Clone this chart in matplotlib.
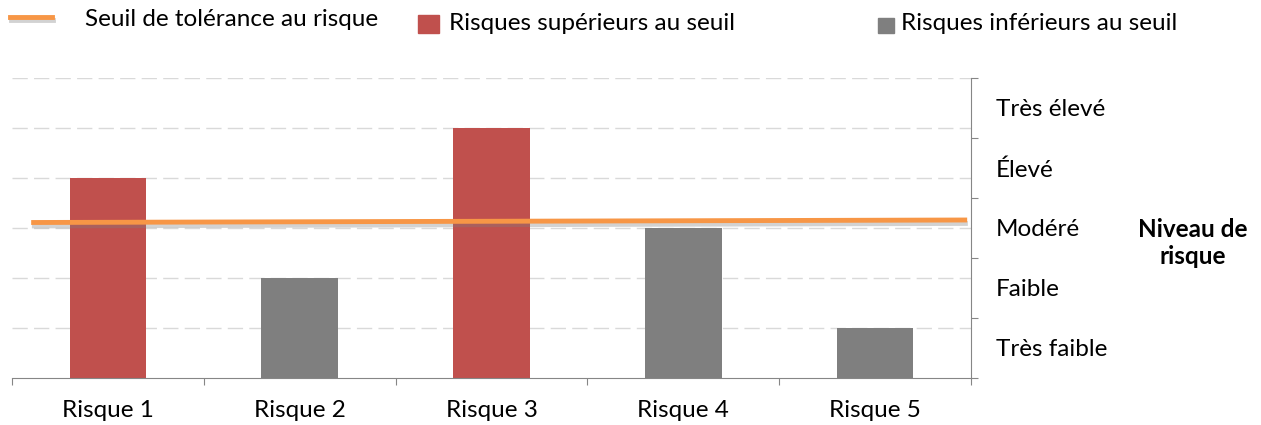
import matplotlib
matplotlib.use("Agg")
import matplotlib.pyplot as plt
import matplotlib.patheffects as pe
from matplotlib.lines import Line2D
from matplotlib.patches import Rectangle

plt.rcParams['font.family'] = ['Lato', 'DejaVu Sans']

categories = ["Risque 1", "Risque 2", "Risque 3", "Risque 4", "Risque 5"]
values = [4, 2, 5, 3, 1]
above_threshold = [True, False, True, False, False]
threshold_x = [-0.4, 4.48]
threshold_y = [3.11, 3.16]
level_labels = ["Très faible", "Faible", "Modéré", "Élevé", "Très élevé"]

RED = "#C0504D"
GREY = "#7F7F7F"
ORANGE = "#F79646"
AXIS = "#868686"
FS = 17.5

fig = plt.figure(figsize=(12.61, 4.25), dpi=100)
ax = fig.add_axes([12/1261, 1-378/425, (971-12)/1261, 300/425])

x = list(range(len(categories)))
colors = [RED if a else GREY for a in above_threshold]
ax.bar(x, values, width=0.40, color=colors, zorder=2)

ax.set_xlim(-0.5, len(categories) - 0.5)
ax.set_ylim(0, 6)
ax.set_yticks(range(1, 7))
ax.set_yticklabels([])
ax.tick_params(axis='y', length=0)
ax.yaxis.grid(True, linestyle=(0, (11, 4.5)), color="#D9D9D9", linewidth=1.0, zorder=0)
ax.set_axisbelow(True)

ax.set_xticks([i - 0.5 for i in range(len(categories) + 1)])
ax.set_xticklabels([])
ax.set_xticks(x, minor=True)
ax.set_xticklabels(categories, minor=True, fontsize=FS)
ax.tick_params(axis='x', which='major', length=5, color=AXIS, direction='out')
ax.tick_params(axis='x', which='minor', length=0, pad=16)

for s in ['left', 'top', 'right']:
    ax.spines[s].set_visible(False)
ax.spines['bottom'].set_color(AXIS)

shadow = [pe.SimpleLineShadow(offset=(0.5, -2.5), shadow_color='#808080', alpha=0.35), pe.Normal()]
ax.plot(threshold_x, threshold_y, color=ORANGE, linewidth=3.5, zorder=4,
        solid_capstyle='butt', path_effects=shadow)

ax2 = ax.twinx()
ax2.set_ylim(0, 5)
ax2.set_yticks(range(0, 6))
ax2.set_yticklabels([])
ax2.set_yticks([i + 0.5 for i in range(5)], minor=True)
ax2.set_yticklabels(level_labels, minor=True, fontsize=FS)
ax2.tick_params(axis='y', which='major', length=5, color=AXIS, direction='out')
ax2.tick_params(axis='y', which='minor', length=0, pad=18)
for s in ['left', 'top', 'bottom']:
    ax2.spines[s].set_visible(False)
ax2.spines['right'].set_color(AXIS)

fig.text(1193/1261, 1-243/425, "Niveau de\nrisque", ha='center', va='center',
         fontsize=FS, fontweight='bold', linespacing=1.25)

# Legend
fig.add_artist(Line2D([10/1261, 52/1261], [1-17/425, 1-17/425], color=ORANGE, linewidth=3.5,
                      path_effects=shadow))
fig.text(85/1261, 1-19/425, "Seuil de tolérance au risque", ha='left', va='center', fontsize=FS)
fig.add_artist(Rectangle((418/1261, 1-33/425), 21/1261, 18/425, color=RED, transform=fig.transFigure))
fig.text(449/1261, 1-24/425, "Risques supérieurs au seuil", ha='left', va='center', fontsize=FS)
fig.add_artist(Rectangle((878/1261, 1-33/425), 16/1261, 15/425, color=GREY, transform=fig.transFigure))
fig.text(901/1261, 1-24/425, "Risques inférieurs au seuil", ha='left', va='center', fontsize=FS)

fig.savefig("out.png", dpi=100)
